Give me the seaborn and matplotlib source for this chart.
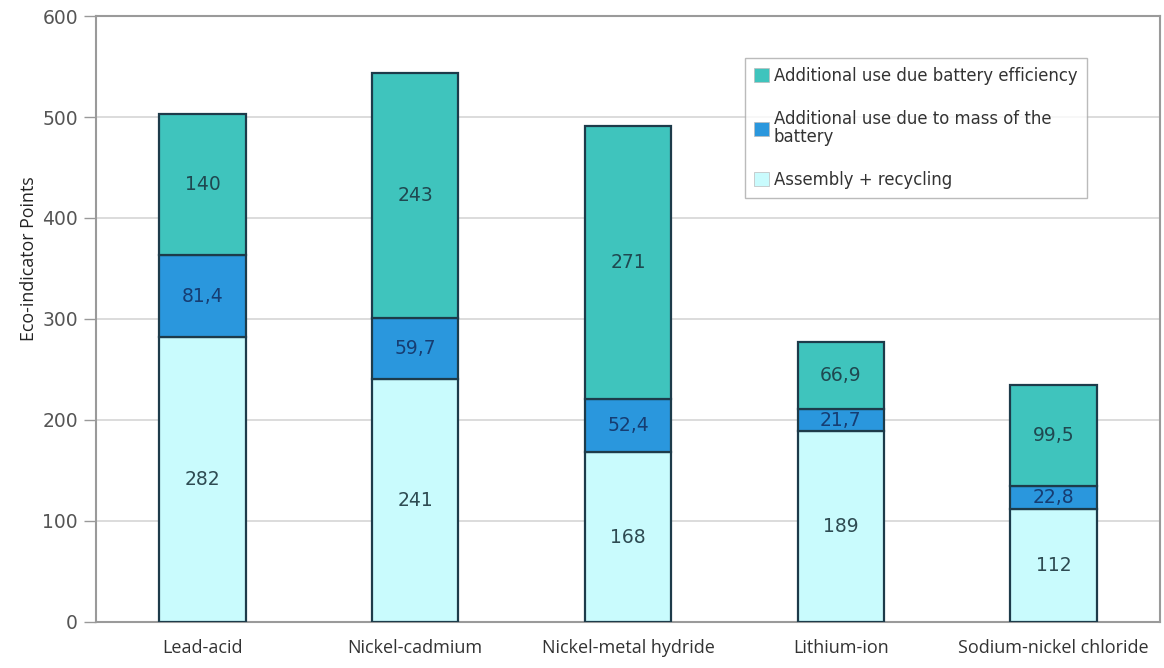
import matplotlib
matplotlib.use("Agg")
import matplotlib.pyplot as plt
import seaborn as sns
import pandas as pd
import numpy as np
from matplotlib.patches import Patch

# Battery types and Eco-indicator points per contribution
batteries = ["Lead-acid", "Nickel-cadmium", "Nickel-metal hydride", "Lithium-ion", "Sodium-nickel chloride"]
assembly_recycling = [282, 241, 168, 189, 112]
mass_use = [81.4, 59.7, 52.4, 21.7, 22.8]
efficiency_use = [140, 243, 271, 66.9, 99.5]

series_names = [
    "Additional use due battery efficiency",
    "Additional use due to mass of the\nbattery",
    "Assembly + recycling",
]
yticks = [0, 100, 200, 300, 400, 500, 600]

c_eff = "#3fc4bd"
c_mass = "#2a97dd"
c_asm = "#c9fbfd"
edge = "#1d3b4a"

sns.set_theme(style="white")
plt.rcParams["font.family"] = ["DejaVu Sans"]

fig = plt.figure(figsize=(11.64, 6.68), dpi=100)
ax = fig.add_axes([0.0825, 0.069, 0.914, 0.907])

df = pd.DataFrame({
    "battery": batteries,
    "asm": assembly_recycling,
    "mass": mass_use,
    "eff": efficiency_use,
})
bottom_mass = np.array(assembly_recycling)
bottom_eff = bottom_mass + np.array(mass_use)

bar_kw = dict(width=0.405, edgecolor=edge, linewidth=1.6, saturation=1, ax=ax, zorder=3)
sns.barplot(data=df, x="battery", y="asm", color=c_asm, **bar_kw)
sns.barplot(data=df, x="battery", y="mass", color=c_mass, bottom=bottom_mass, **bar_kw)
sns.barplot(data=df, x="battery", y="eff", color=c_eff, bottom=bottom_eff, **bar_kw)

def fmt(v):
    s = f"{v:g}"
    return s.replace(".", ",")

for i in range(len(batteries)):
    segs = [
        (0, assembly_recycling[i], "#2e4b52"),
        (bottom_mass[i], mass_use[i], "#163d72"),
        (bottom_eff[i], efficiency_use[i], "#1f4850"),
    ]
    for base, val, col in segs:
        ax.text(i, base + val / 2, fmt(val), ha="center", va="center",
                fontsize=13.5, color=col, zorder=5)

ax.set_ylim(0, 600)
ax.set_xlim(-0.5, len(batteries) - 0.5)
ax.set_yticks(yticks)
ax.set_yticklabels([str(t) for t in yticks], fontsize=13.5, color="#555555")
ax.yaxis.grid(True, color="#d2d2d2", linewidth=1.1, zorder=0)
ax.set_axisbelow(True)

ax.set_xticks(range(len(batteries)))
ax.set_xticklabels(batteries, fontsize=13, color="#333333", family=["Open Sans", "DejaVu Sans"])
ax.set_xticks(np.arange(0.5, len(batteries) - 0.5, 1.0), minor=True)
ax.tick_params(axis="x", which="major", length=0, pad=12)
ax.tick_params(axis="x", which="minor", length=6, color="#999999", width=1)
ax.tick_params(axis="y", length=9, color="#999999", width=1, left=True, pad=4)

ax.set_xlabel("")
ax.set_ylabel("Eco-indicator Points", fontsize=12.8, color="#222222",
              family=["Open Sans", "DejaVu Sans"])
ax.yaxis.set_label_coords(-0.0545, 0.60)

for s in ax.spines.values():
    s.set_color("#9a9a9a")
    s.set_linewidth(1.5)

handles = [
    Patch(facecolor=c_eff, edgecolor="#bbbbbb", linewidth=0.5),
    Patch(facecolor=c_mass, edgecolor="#bbbbbb", linewidth=0.5),
    Patch(facecolor=c_asm, edgecolor="#bbbbbb", linewidth=0.5),
]
leg = ax.legend(handles, series_names, loc="upper left", bbox_to_anchor=(0.61, 0.931),
                frameon=True, fancybox=False, fontsize=11.9, labelspacing=1.5,
                handlelength=0.9, handleheight=0.9, handletextpad=0.3,
                borderpad=0.55, borderaxespad=0)
leg.get_frame().set_edgecolor("#aaaaaa")
leg.get_frame().set_linewidth(1.0)
for t in leg.get_texts():
    t.set_color("#333333")
    t.set_linespacing(1.0)

fig.savefig("out.png", dpi=100, facecolor="white")
